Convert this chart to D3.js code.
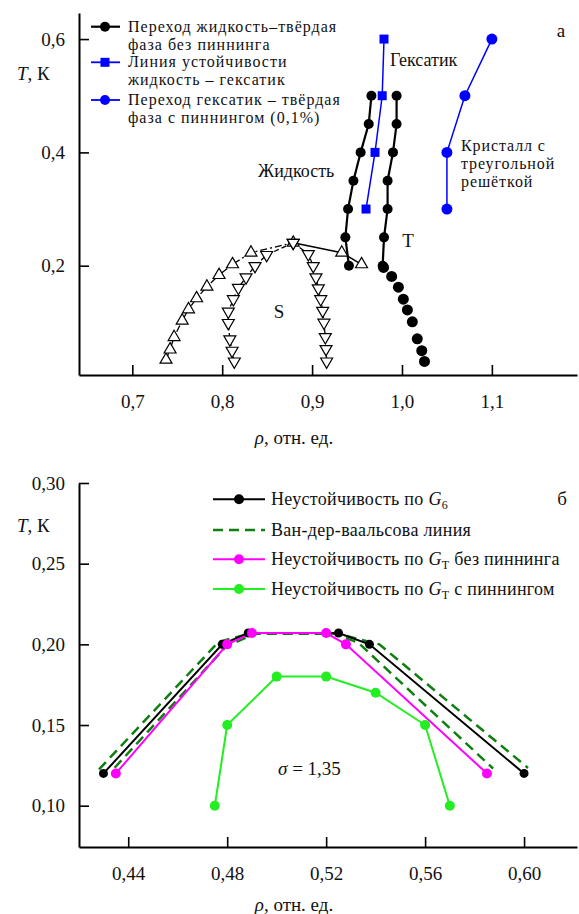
<!DOCTYPE html>
<html><head><meta charset="utf-8">
<script src="https://cdn.jsdelivr.net/npm/d3@7/dist/d3.min.js"></script>
<style>
body{margin:0;background:#fff;}
svg{display:block;}
svg text{font-family:"Liberation Serif","DejaVu Serif","Liberation Sans",sans-serif;}
</style></head>
<body>
<svg id="c" width="579" height="914"></svg>
<script>
// ---------- DATA: panel а ----------
const topXTicks = [0.7, 0.8, 0.9, 1.0, 1.1];
const topYTicks = [0.2, 0.4, 0.6];
// liquid–solid without pinning (black circles)
const lsLeftRho = [0.966, 0.963, 0.954, 0.946, 0.940, 0.937, 0.941];
const lsLeftT   = [0.50, 0.45, 0.40, 0.35, 0.30, 0.25, 0.20];
const lsRightRho = [0.994, 0.994, 0.990, 0.984, 0.984, 0.980, 0.9785];
const lsRightT   = [0.50, 0.45, 0.40, 0.35, 0.30, 0.25, 0.20];
const lsTailRho = [0.9795, 0.9885, 0.996, 1.0015, 1.006, 1.0115, 1.017, 1.022, 1.025];
const lsTailT   = [0.197, 0.181, 0.162, 0.141, 0.122, 0.101, 0.071, 0.050, 0.031];
// liquid–hexatic stability line (blue squares)
const hexRho = [0.980, 0.978, 0.970, 0.960];
const hexT   = [0.60, 0.50, 0.40, 0.30];
// hexatic–solid with pinning (blue circles)
const pinRho = [1.10, 1.07, 1.05, 1.05];
const pinT   = [0.60, 0.50, 0.40, 0.30];
// open up-triangles, left arm (up to the peak)
const upRho = [0.7375, 0.742, 0.7465, 0.7555, 0.7625, 0.7715, 0.783, 0.7965, 0.8115, 0.832, 0.879];
const upT   = [0.034, 0.052, 0.074, 0.103, 0.123, 0.1425, 0.163, 0.1835, 0.2025, 0.223, 0.2405];
// open up-triangles, right part (from the peak)
const upRightRho = [0.879, 0.933, 0.955];
const upRightT   = [0.2405, 0.223, 0.2025];
// open down-triangles, inner arm
const dnInRho = [0.8135, 0.811, 0.8085, 0.8068, 0.8068, 0.8124, 0.818, 0.8265, 0.8365, 0.8495, 0.879];
const dnInT   = [0.031, 0.050, 0.070, 0.099, 0.119, 0.141, 0.161, 0.1795, 0.1995, 0.219, 0.2405];
// open down-triangles, outer arm
const dnOutRho = [0.879, 0.8958, 0.9013, 0.9043, 0.9069, 0.9096, 0.9118, 0.9132, 0.9147, 0.9155, 0.9162];
const dnOutT   = [0.2405, 0.2205, 0.1995, 0.1795, 0.160, 0.141, 0.1205, 0.0995, 0.074, 0.053, 0.031];

// ---------- DATA: panel б ----------
const botXTicks = [0.44, 0.48, 0.52, 0.56, 0.60];
const botYTicks = [0.10, 0.15, 0.20, 0.25, 0.30];
const g6Rho = [0.43, 0.478, 0.4885, 0.525, 0.5375, 0.60];
const g6T   = [0.12, 0.20, 0.207, 0.207, 0.20, 0.12];
const vdwOuterRho = [0.4282, 0.4765, 0.489, 0.5245, 0.5415, 0.6016];
const vdwOuterT   = [0.1225, 0.2015, 0.2066, 0.2066, 0.2, 0.1234];
const vdwInnerRho = [0.4345, 0.4795, 0.491, 0.523, 0.533, 0.5875];
const vdwInnerT   = [0.1235, 0.1985, 0.2066, 0.2066, 0.201, 0.123];
const gtNoPinRho = [0.435, 0.48, 0.49, 0.52, 0.528, 0.585];
const gtNoPinT   = [0.12, 0.20, 0.207, 0.207, 0.20, 0.12];
const gtPinRho = [0.475, 0.48, 0.50, 0.52, 0.54, 0.56, 0.57];
const gtPinT   = [0.10, 0.15, 0.18, 0.18, 0.17, 0.15, 0.10];

const zip = (a, b) => a.map((v, i) => [v, b[i]]);

const svg = d3.select("#c");
const fmt1 = d => d3.format(".1f")(d).replace(".", ",");
const fmt2 = d => d3.format(".2f")(d).replace(".", ",");

// ---------- scales ----------
const xA = d3.scaleLinear().domain([0.6407, 1.1947]).range([79, 577]);
const yA = d3.scaleLinear().domain([0.0071, 0.646]).range([375, 13]);
const xB = d3.scaleLinear().domain([0.4201, 0.6214]).range([79, 577]);
const yB = d3.scaleLinear().domain([0.0744, 0.30]).range([847, 483]);

function axes(x, y, xt, yt, fx, fy) {
  const gx = svg.append("g").attr("transform", `translate(0,${y.range()[0]})`)
    .call(d3.axisBottom(x).tickValues(xt).tickFormat(fx).tickSizeInner(-10).tickSizeOuter(0).tickPadding(20));
  const gy = svg.append("g").attr("transform", `translate(${x.range()[0]},0)`)
    .call(d3.axisLeft(y).tickValues(yt).tickFormat(fy).tickSizeInner(-10).tickSizeOuter(0).tickPadding(14));
  [gx, gy].forEach(g => {
    g.attr("font-family", null);
    g.selectAll("path.domain").attr("stroke", "#000").attr("stroke-width", 2);
    g.selectAll(".tick line").attr("stroke", "#000").attr("stroke-width", 1.6);
    g.selectAll(".tick text").attr("font-size", 19).attr("fill", "#111");
  });
}
axes(xA, yA, topXTicks, topYTicks, fmt1, fmt1);
axes(xB, yB, botXTicks, botYTicks, fmt2, fmt2);

function text(x, y, str, opts = {}) {
  const t = svg.append("text").attr("x", x).attr("y", y)
    .attr("font-size", opts.size || 18).attr("fill", "#111");
  if (opts.anchor) t.attr("text-anchor", opts.anchor);
  if (opts.ls) t.attr("letter-spacing", opts.ls);
  t.text(str);
  return t;
}

// axis titles
[80, 532].forEach(yy => {
  const t = svg.append("text").attr("x", 17).attr("y", yy).attr("font-size", 19).attr("fill", "#111");
  t.append("tspan").attr("font-style", "italic").text("T");
  t.append("tspan").text(", К");
});
[444, 911].forEach(yy => {
  const r = svg.append("text").attr("x", 294).attr("y", yy).attr("text-anchor", "middle")
    .attr("font-size", 19).attr("fill", "#111");
  r.append("tspan").attr("font-style", "italic").text("ρ");
  r.append("tspan").text(", отн. ед.");
});

// ---------- panel а marks ----------
const lineA = d3.line().x(d => xA(d[0])).y(d => yA(d[1]));
function pathA(data, color, w, dash) {
  const p = svg.append("path").datum(data).attr("d", lineA).attr("fill", "none")
    .attr("stroke", color).attr("stroke-width", w);
  if (dash) p.attr("stroke-dasharray", dash);
}
pathA(zip(upRho, upT), "#000", 1.3, "7,3,2,3");
pathA(zip(upRightRho, upRightT), "#000", 1.5);
pathA(zip(dnInRho, dnInT), "#000", 1.3, "5,3");
pathA(zip(dnOutRho, dnOutT), "#000", 1.3, "5,3");
pathA(zip(lsLeftRho, lsLeftT), "#000", 2.2);
pathA(zip(lsRightRho, lsRightT), "#000", 2.2);
pathA(zip(hexRho, hexT), "#0000ff", 1.5);
pathA(zip(pinRho, pinT), "#0000ff", 1.5);

const triUp = d3.symbol().type(d3.symbolTriangle).size(62)();
function tri(data, down) {
  svg.append("g").selectAll("path").data(data).join("path")
    .attr("d", triUp)
    .attr("transform", d => `translate(${xA(d[0])},${yA(d[1])})${down ? " rotate(180)" : ""}`)
    .attr("fill", "#fff").attr("stroke", "#000").attr("stroke-width", 1.2);
}
tri(zip(upRho, upT), false);
tri(zip(upRightRho, upRightT).slice(1), false);
tri(zip(dnInRho, dnInT), true);
tri(zip(dnOutRho, dnOutT), true);

function dotsA(data, color, r) {
  svg.append("g").selectAll("circle").data(data).join("circle")
    .attr("cx", d => xA(d[0])).attr("cy", d => yA(d[1])).attr("r", r).attr("fill", color);
}
dotsA(zip(lsLeftRho, lsLeftT), "#000", 5);
dotsA(zip(lsRightRho, lsRightT), "#000", 5);
dotsA(zip(lsTailRho, lsTailT), "#000", 5.5);
dotsA(zip(pinRho, pinT), "#0000ff", 5.5);
svg.append("g").selectAll("rect").data(zip(hexRho, hexT)).join("rect")
  .attr("x", d => xA(d[0]) - 4.5).attr("y", d => yA(d[1]) - 4.5)
  .attr("width", 9).attr("height", 9).attr("fill", "#0000ff");

// annotations panel а
text(390, 66, "Гексатик", {size: 18});
text(258, 177, "Жидкость", {size: 18});
text(461, 151, "Кристалл с", {size: 16, ls: 0.9});
text(461, 169, "треугольной", {size: 16, ls: 0.9});
text(461, 187, "решёткой", {size: 16, ls: 0.9});
text(408, 247, "T", {anchor: "middle", size: 19});
text(279, 318, "S", {anchor: "middle", size: 19});
text(561, 37, "а", {anchor: "middle", size: 19});

// legend panel а
const legA = [
  {y: 26.7, lines: ["Переход жидкость–твёрдая", "фаза без пиннинга"], color: "#000", mk: "circle"},
  {y: 62.3, lines: ["Линия устойчивости", "жидкость – гексатик"], color: "#0000ff", mk: "square"},
  {y: 100, lines: ["Переход гексатик – твёрдая", "фаза с пиннингом (0,1%)"], color: "#0000ff", mk: "circle"}
];
legA.forEach(e => {
  svg.append("line").attr("x1", 91).attr("x2", 120).attr("y1", e.y).attr("y2", e.y)
    .attr("stroke", e.color).attr("stroke-width", e.color === "#000" ? 2.2 : 1.8);
  if (e.mk === "circle") svg.append("circle").attr("cx", 105).attr("cy", e.y).attr("r", 5).attr("fill", e.color);
  else svg.append("rect").attr("x", 100.5).attr("y", e.y - 4.5).attr("width", 9).attr("height", 9).attr("fill", e.color);
  e.lines.forEach((l, i) => text(128, e.y + 5 + i * 18, l, {size: 16, ls: 1.0}));
});

// ---------- panel б marks ----------
const lineB = d3.line().x(d => xB(d[0])).y(d => yB(d[1]));
function pathB(data, color, w, dash) {
  const p = svg.append("path").datum(data).attr("d", lineB).attr("fill", "none")
    .attr("stroke", color).attr("stroke-width", w);
  if (dash) p.attr("stroke-dasharray", dash);
}
function dotsB(data, color, r) {
  svg.append("g").selectAll("circle").data(data).join("circle")
    .attr("cx", d => xB(d[0])).attr("cy", d => yB(d[1])).attr("r", r).attr("fill", color);
}
pathB(zip(vdwOuterRho, vdwOuterT), "#0f7f0f", 2.5, "10,6");
pathB(zip(vdwInnerRho, vdwInnerT), "#0f7f0f", 2.5, "10,6");
pathB(zip(gtPinRho, gtPinT), "#22ee22", 2);
pathB(zip(g6Rho, g6T), "#000", 2);
pathB(zip(gtNoPinRho, gtNoPinT), "#ff00ff", 2);
dotsB(zip(gtPinRho, gtPinT), "#22ee22", 5);
dotsB(zip(g6Rho, g6T), "#000", 4.5);
dotsB(zip(gtNoPinRho, gtNoPinT), "#ff00ff", 5);

// legend panel б
const legB = [
  {y: 499.3, color: "#000", dash: null, mk: true, label: ["Неустойчивость по ", "G", "6", ""]},
  {y: 530, color: "#0f7f0f", dash: "10,6", mk: false, label: ["Ван-дер-ваальсова линия"]},
  {y: 559.3, color: "#ff00ff", dash: null, mk: true, label: ["Неустойчивость по ", "G", "T", " без пиннинга"]},
  {y: 589, color: "#22ee22", dash: null, mk: true, label: ["Неустойчивость по ", "G", "T", " с пиннингом"]}
];
legB.forEach(e => {
  const l = svg.append("line").attr("x1", 213).attr("x2", 265).attr("y1", e.y).attr("y2", e.y)
    .attr("stroke", e.color).attr("stroke-width", e.dash ? 2.5 : 2);
  if (e.dash) l.attr("stroke-dasharray", e.dash);
  if (e.mk) svg.append("circle").attr("cx", 239).attr("cy", e.y).attr("r", 5).attr("fill", e.color);
  const t = svg.append("text").attr("x", 271).attr("y", e.y + 6)
    .attr("font-size", 18).attr("letter-spacing", 0.3).attr("fill", "#111");
  t.append("tspan").text(e.label[0]);
  if (e.label.length > 1) {
    t.append("tspan").attr("font-style", "italic").text(e.label[1]);
    t.append("tspan").attr("font-size", 12).attr("dy", 4).text(e.label[2]);
    t.append("tspan").attr("dy", -4).text(e.label[3]);
  }
});
text(562, 505, "б", {anchor: "middle", size: 19});
const sg = svg.append("text").attr("x", 278).attr("y", 775).attr("font-size", 19).attr("fill", "#111");
sg.append("tspan").attr("font-style", "italic").text("σ");
sg.append("tspan").text(" = 1,35");
</script>
</body></html>
